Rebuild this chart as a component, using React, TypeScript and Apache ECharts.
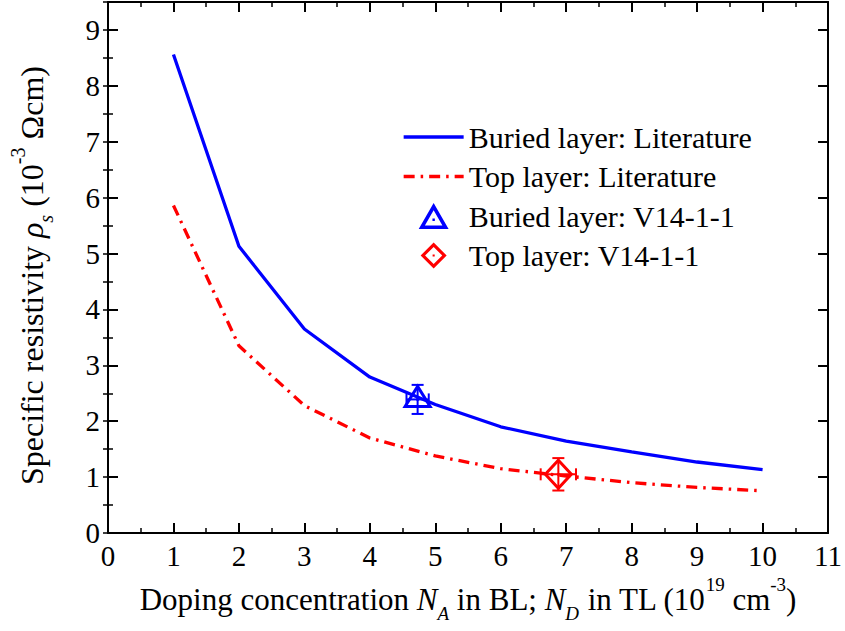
import React, { useEffect, useRef } from "react";
import * as echarts from "echarts";

const dopingLevels = [1, 2, 3, 4, 5, 6, 7, 8, 9, 10];
const buriedLiterature = [8.56, 5.13, 3.65, 2.79, 2.3, 1.9, 1.645, 1.45, 1.27, 1.135];
const topLiterature = [5.86, 3.35, 2.28, 1.7, 1.38, 1.15, 1.02, 0.9, 0.815, 0.755];
// [x, y, xError, yError]
const buriedMeasured = [[4.73, 2.39, 0.17, 0.26]];
const topMeasured = [[6.88, 1.05, 0.27, 0.29]];

const FONT = "'Liberation Serif', 'Times New Roman', serif";
const BLUE = "#0000ff";
const RED = "#ff0000";

const TRI_ICON =
  "path://M50 0 L100 87 L0 87 Z M50 24 L20.7 75 L79.3 75 Z M46 52 L54 52 L54 60 L46 60 Z";
const DIA_ICON =
  "path://M50 0 L100 50 L50 100 L0 50 Z M50 17 L17 50 L50 83 L83 50 Z M46 46 L54 46 L54 54 L46 54 Z";

function makeRich(size: number) {
  const small = Math.round(size * 0.62);
  return {
    t: { fontFamily: FONT, fontSize: size, color: "#000", lineHeight: 48 },
    i: { fontFamily: FONT, fontSize: size, color: "#000", fontStyle: "italic", lineHeight: 48 },
    si: { fontFamily: FONT, fontSize: small, color: "#000", fontStyle: "italic", lineHeight: small, verticalAlign: "bottom" },
    sp: { fontFamily: FONT, fontSize: small, color: "#000", lineHeight: small, verticalAlign: "top" },
  };
}

function makeRender(kind: "tri" | "dia") {
  return (params: any, api: any) => {
    const x = api.value(0);
    const y = api.value(1);
    const xe = api.value(2);
    const ye = api.value(3);
    const c = api.coord([x, y]);
    const t = api.coord([x, y + ye]);
    const b = api.coord([x, y - ye]);
    const l = api.coord([x - xe, y]);
    const r = api.coord([x + xe, y]);
    const color = kind === "tri" ? BLUE : RED;
    const ls = { stroke: color, lineWidth: 2, fill: null };
    const cap = 6;
    const pts =
      kind === "tri"
        ? [
            [c[0], c[1] - 13],
            [c[0] + 12.5, c[1] + 7],
            [c[0] - 12.5, c[1] + 7],
          ]
        : [
            [c[0], c[1] - 14],
            [c[0] + 13, c[1]],
            [c[0], c[1] + 14],
            [c[0] - 13, c[1]],
          ];
    return {
      type: "group",
      children: [
        { type: "line", shape: { x1: t[0], y1: t[1], x2: b[0], y2: b[1] }, style: ls },
        { type: "line", shape: { x1: t[0] - cap, y1: t[1], x2: t[0] + cap, y2: t[1] }, style: ls },
        { type: "line", shape: { x1: b[0] - cap, y1: b[1], x2: b[0] + cap, y2: b[1] }, style: ls },
        { type: "line", shape: { x1: l[0], y1: l[1], x2: r[0], y2: r[1] }, style: ls },
        { type: "line", shape: { x1: l[0], y1: l[1] - cap, x2: l[0], y2: l[1] + cap }, style: ls },
        { type: "line", shape: { x1: r[0], y1: r[1] - cap, x2: r[0], y2: r[1] + cap }, style: ls },
        {
          type: "polygon",
          shape: { points: pts },
          style: { stroke: color, lineWidth: 3, fill: "none", lineJoin: "miter" },
        },
        { type: "circle", shape: { cx: c[0], cy: c[1], r: 1.6 }, style: { fill: color } },
      ],
    };
  };
}

const baseAxis = {
  type: "value",
  axisLine: { show: true, onZero: false, lineStyle: { color: "#000", width: 2 } },
  axisTick: { show: true, inside: true, length: 10, lineStyle: { color: "#000", width: 2 } },
  splitLine: { show: false },
};

export default function App() {
  const ref = useRef<HTMLDivElement>(null);
  useEffect(() => {
    if (!ref.current) return;
    const chart = echarts.init(ref.current, undefined, { renderer: "svg" });
    const intLabel = (v: number) => (Number.isInteger(v) ? String(v) : "");
    const labelStyle = { fontFamily: FONT, fontSize: 29, color: "#000" };
    const hiddenSymbol = { color: "rgba(0,0,0,0)", borderWidth: 0, opacity: 0 };
    chart.setOption({
      animation: false,
      backgroundColor: "#fff",
      grid: { left: 106, right: 15, top: 2, bottom: 98 },
      xAxis: [
        {
          ...baseAxis,
          position: "bottom",
          min: 0,
          max: 11,
          interval: 1,
          minorTick: { show: true, splitNumber: 2, length: 5, lineStyle: { color: "#000", width: 1.5 } },
          axisLabel: { ...labelStyle, margin: 8 },
          name:
            "{t|Doping concentration }{i|N}{si|A}{t| in BL; }{i|N}{si|D}{t| in TL (10}{sp|19}{t| cm}{sp|-3}{t|)}",
          nameLocation: "middle",
          nameGap: 42,
          nameTextStyle: { fontFamily: FONT, fontSize: 31, color: "#000", rich: makeRich(31) },
        },
        {
          ...baseAxis,
          position: "top",
          min: 0,
          max: 11,
          interval: 1,
          minorTick: { show: true, splitNumber: 2, length: 5, lineStyle: { color: "#000", width: 1.5 } },
          axisLabel: { show: false },
        },
      ],
      yAxis: [
        {
          ...baseAxis,
          position: "left",
          min: 0,
          max: 9.5,
          interval: 1,
          axisLabel: { ...labelStyle, margin: 8, formatter: intLabel },
          name: "{t|Specific resistivity }{i|ρ}{si|s}{t| (10}{sp|-3}{t| Ωcm)}",
          nameLocation: "middle",
          nameRotate: 90,
          nameGap: 52,
          nameTextStyle: {
            fontFamily: FONT,
            fontSize: 32,
            color: "#000",
            padding: [0, 16, 0, 0],
            rich: makeRich(32),
          },
        },
        {
          ...baseAxis,
          position: "left",
          min: 0,
          max: 9.5,
          interval: 0.5,
          axisLine: { show: false },
          axisTick: { show: true, inside: true, length: 5, lineStyle: { color: "#000", width: 1.5 } },
          axisLabel: { show: false },
        },
        {
          ...baseAxis,
          position: "right",
          min: 0,
          max: 9.5,
          interval: 1,
          axisLabel: { show: false },
        },
        {
          ...baseAxis,
          position: "right",
          min: 0,
          max: 9.5,
          interval: 0.5,
          axisLine: { show: false },
          axisTick: { show: true, inside: true, length: 5, lineStyle: { color: "#000", width: 1.5 } },
          axisLabel: { show: false },
        },
      ],
      legend: {
        orient: "vertical",
        left: 397,
        top: 117,
        itemWidth: 60,
        itemHeight: 26,
        itemGap: 9.5,
        lineStyle: { width: 3.3 },
        textStyle: { fontFamily: FONT, fontSize: 30, color: "#000" },
        data: [
          { name: "Buried layer: Literature", itemStyle: hiddenSymbol },
          { name: "Top layer: Literature", itemStyle: hiddenSymbol },
          { name: "Buried layer: V14-1-1", icon: TRI_ICON, itemStyle: { color: BLUE, borderWidth: 0 } },
          { name: "Top layer: V14-1-1", icon: DIA_ICON, itemStyle: { color: RED, borderWidth: 0 } },
        ],
      },
      series: [
        {
          name: "Buried layer: Literature",
          type: "line",
          symbol: "none",
          data: dopingLevels.map((x, i) => [x, buriedLiterature[i]]),
          lineStyle: { color: BLUE, width: 3.3 },
          itemStyle: { color: BLUE },
        },
        {
          name: "Top layer: Literature",
          type: "line",
          symbol: "none",
          data: dopingLevels.map((x, i) => [x, topLiterature[i]]),
          lineStyle: { color: RED, width: 3.3, type: [11, 6, 2.5, 6] },
          itemStyle: { color: RED },
        },
        {
          name: "Buried layer: V14-1-1",
          type: "custom",
          renderItem: makeRender("tri"),
          data: buriedMeasured,
          itemStyle: { color: BLUE },
          encode: { x: 0, y: 1 },
          z: 5,
        },
        {
          name: "Top layer: V14-1-1",
          type: "custom",
          renderItem: makeRender("dia"),
          data: topMeasured,
          itemStyle: { color: RED },
          encode: { x: 0, y: 1 },
          z: 5,
        },
      ],
    });
    return () => chart.dispose();
  }, []);
  return (
    <div
      ref={ref}
      style={{ position: "fixed", left: 0, top: 0, width: 845, height: 631, background: "#fff" }}
    />
  );
}
